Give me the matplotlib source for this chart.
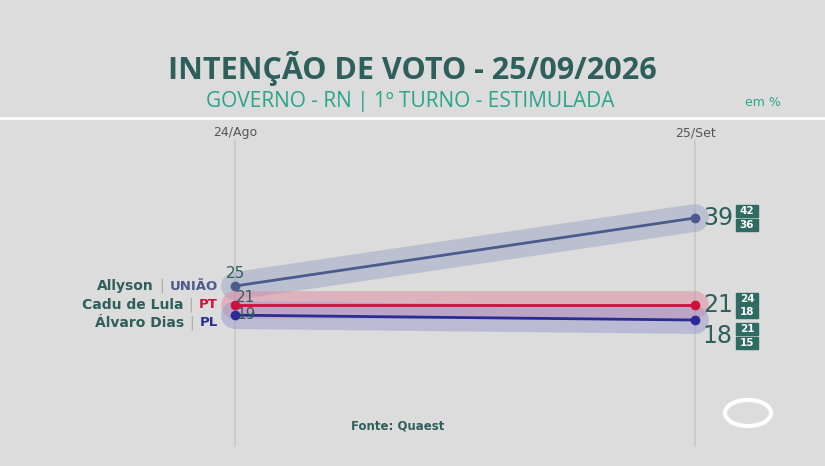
import matplotlib
matplotlib.use("Agg")
import matplotlib.pyplot as plt
from matplotlib.patches import Rectangle

dates = ["24/Ago", "25/Set"]
names = ["Allyson", "Cadu de Lula", "Álvaro Dias"]
parties = ["UNIÃO", "PT", "PL"]
first = [25, 21, 19]
last = [39, 21, 18]
upper = [42, 24, 21]
lower = [36, 18, 15]
colors = ["#4d5b8c", "#d0103a", "#2b2b96"]
glow = ["#9aa5c4", "#e08aa0", "#9a9ad0"]

W, H = 825, 466
fig = plt.figure(figsize=(W/100, H/100), dpi=100)
fig.patch.set_facecolor("#dcdcdc")
ax = fig.add_axes([0, 0, 1, 1])
ax.set_facecolor("#dcdcdc")
sx = 460.0; sy = 4.86; y0 = 58.5
ax.set_xlim(-235/sx, (W-235)/sx)
ax.set_ylim(-y0/sy, (H-y0)/sy)
ax.axis("off")

def px(x, y):
    return (x/W, 1 - y/H)

teal = "#2e5f5b"
fig.text(*px(412, 68), "INTENÇÃO DE VOTO - 25/09/2026", ha="center", va="center",
         fontsize=22, fontweight="bold", color=teal, family="Open Sans")
fig.text(*px(410, 101), "GOVERNO - RN | 1º TURNO - ESTIMULADA", ha="center", va="center",
         fontsize=15, color="#2aa58a", family="Open Sans")
fig.text(*px(763, 103), "em %", ha="center", va="center", fontsize=9, color="#2aa58a")
fig.add_artist(plt.Line2D([0, 1], [1-118/H]*2, color="white", lw=2, transform=fig.transFigure))

for xi, d in enumerate(dates):
    ax.plot([xi, xi], [-8, 55], color="#c8c8c8", lw=1.2, zorder=0)
    ax.text(xi, 56.5, d, ha="center", va="center", fontsize=9, color="#555")

for i in range(3):
    ax.plot([0, 1], [first[i], last[i]], color=glow[i], lw=20, alpha=0.5,
            solid_capstyle="round", zorder=1)
for i in range(3):
    ax.plot([0, 1], [first[i], last[i]], color=colors[i], lw=2, zorder=3,
            marker="o", markersize=6)

# start value labels
ax.text(0, first[0] + 1.0, str(first[0]), ha="center", va="bottom", fontsize=11, color=teal, zorder=4)
ax.text(0.002, first[1] + 1.6, str(first[1]), ha="left", va="center", fontsize=11, color=teal, zorder=4)
ax.text(0.002, first[2] + 0.2, str(first[2]), ha="left", va="center", fontsize=11, color=teal, zorder=4)

# end value labels and interval boxes
dys = [0, 0, -3.3]
for i in range(3):
    yv = last[i] + dys[i]
    ax.text(1.017, yv, str(last[i]), ha="left", va="center", fontsize=17, color=teal, zorder=4)
    for val, off in ((upper[i], 1.4), (lower[i], -1.4)):
        bx = 1.113; by = yv + off
        ax.add_patch(Rectangle((bx - 0.023, by - 1.25), 0.046, 2.5, color="#2e6b62", zorder=5))
        ax.text(bx, by, str(val), ha="center", va="center", fontsize=7.5,
                color="white", fontweight="bold", zorder=6)

fig.canvas.draw()
r = fig.canvas.get_renderer()
ly = [286, 305, 323]
for i in range(3):
    t = fig.text(*px(218, ly[i]), parties[i], ha="right", va="center", fontsize=9.5,
                 fontweight="bold", color=colors[i])
    w = t.get_window_extent(r).width
    b = fig.text(*px(218 - w - 6, ly[i]), "|", ha="right", va="center", fontsize=10, color="#aaaaaa")
    wb = b.get_window_extent(r).width
    fig.text(*px(218 - w - 6 - wb - 5, ly[i]), names[i], ha="right", va="center", fontsize=10,
             fontweight="bold", color=teal)

fig.text(*px(398, 426), "Fonte: Quaest", ha="center", va="center", fontsize=8.5,
         fontweight="bold", color=teal)
fig.add_artist(plt.Circle((748/W, 1-413/H), 0.028, transform=fig.transFigure,
                          fill=False, ec="white", lw=3))
fig.savefig("out.png", dpi=100, facecolor=fig.get_facecolor())
